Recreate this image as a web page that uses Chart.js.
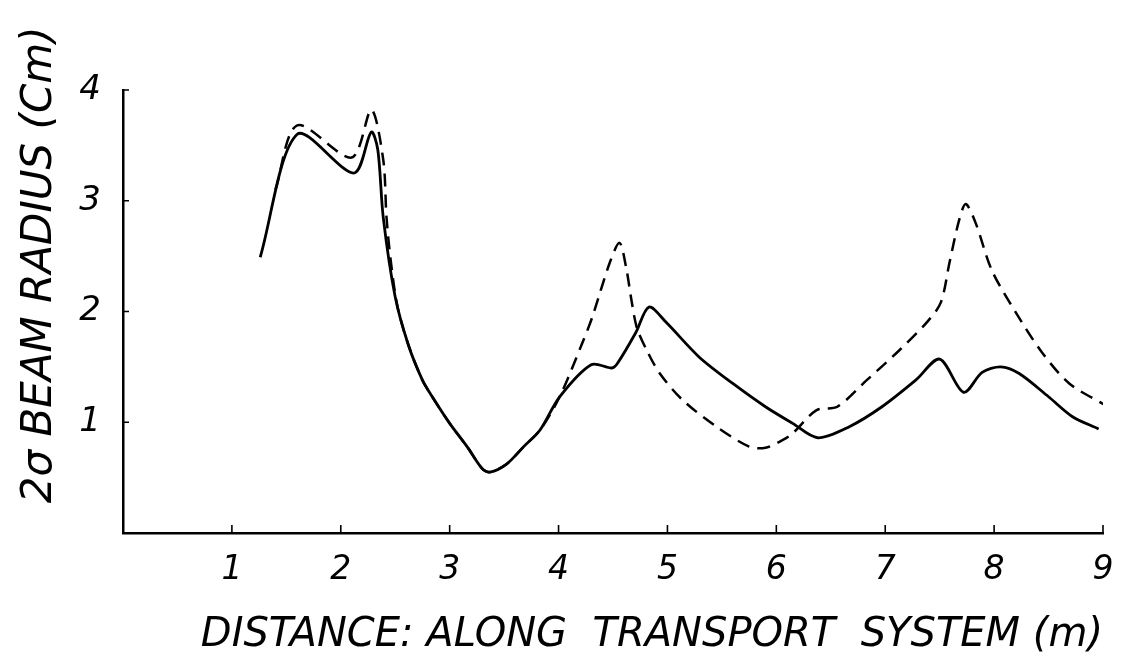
<!DOCTYPE html>
<html>
<head>
<meta charset="utf-8">
<script src="https://cdn.jsdelivr.net/npm/chart.js@4.4.1/dist/chart.umd.min.js"></script>
<style>
  html, body { margin: 0; padding: 0; background: #fff; }
  #wrap { width: 1135px; height: 666px; position: relative; }
</style>
</head>
<body>
<div id="wrap"><canvas id="c" width="1135" height="666"></canvas></div>
<script>
// ---- data ----
const solidX = [1.26, 1.60, 2.12, 2.28, 2.34, 2.39, 2.50, 2.62, 2.75, 2.84, 3.00, 3.16, 3.30, 3.37, 3.52, 3.68, 3.83, 4.01, 4.30, 4.49, 4.54, 4.71, 4.83, 4.99, 5.29, 5.60, 5.90, 6.15, 6.38, 6.67, 6.97, 7.28, 7.50, 7.72, 7.89, 8.06, 8.23, 8.50, 8.72, 8.96];
const solidY = [2.49, 3.60, 3.25, 3.62, 3.46, 2.85, 2.13, 1.70, 1.38, 1.23, 0.99, 0.78, 0.58, 0.55, 0.62, 0.78, 0.93, 1.23, 1.52, 1.49, 1.53, 1.81, 2.04, 1.90, 1.59, 1.35, 1.14, 0.99, 0.86, 0.96, 1.14, 1.38, 1.57, 1.27, 1.45, 1.50, 1.44, 1.23, 1.05, 0.94];

const dashedX = [1.40, 1.60, 2.10, 2.28, 2.39, 2.42, 2.46, 2.52, 2.62, 2.75, 2.84, 3.00, 3.16, 3.30, 3.37, 3.52, 3.68, 3.83, 4.01, 4.22, 4.31, 4.47, 4.56, 4.62, 4.67, 4.72, 4.81, 4.93, 5.14, 5.45, 5.75, 5.90, 6.06, 6.15, 6.37, 6.56, 6.83, 7.13, 7.38, 7.51, 7.59, 7.68, 7.74, 7.83, 7.98, 8.20, 8.44, 8.69, 9.01];
const dashedY = [3.10, 3.68, 3.39, 3.82, 3.37, 2.85, 2.45, 2.05, 1.70, 1.38, 1.23, 0.99, 0.78, 0.58, 0.55, 0.62, 0.78, 0.93, 1.23, 1.72, 1.95, 2.44, 2.62, 2.40, 2.10, 1.85, 1.65, 1.44, 1.20, 0.96, 0.78, 0.77, 0.84, 0.90, 1.11, 1.14, 1.38, 1.65, 1.90, 2.08, 2.44, 2.83, 2.97, 2.80, 2.37, 1.99, 1.63, 1.35, 1.16];

const xTickLabels = ['1', '2', '3', '4', '5', '6', '7', '8', '9'];
const yTickLabels = ['1', '2', '3', '4'];
const xTitle = 'DISTANCE: ALONG  TRANSPORT  SYSTEM (m)';
const yTitle = '2σ BEAM RADIUS (Cm)';

const toPts = (xs, ys) => xs.map((x, i) => ({ x: x, y: ys[i] }));

const FONT = "'DejaVu Sans', sans-serif";

// small inward tick marks drawn through the scales
const innerTicks = {
  id: 'innerTicks',
  afterDraw(chart) {
    const ctx = chart.ctx;
    const xs = chart.scales.x, ys = chart.scales.y;
    const y0 = ys.getPixelForValue(0);
    const x0 = xs.getPixelForValue(0);
    ctx.save();
    ctx.strokeStyle = '#000';
    ctx.lineWidth = 1.6;
    ctx.beginPath();
    for (let v = 1; v <= 9; v++) {
      const px = xs.getPixelForValue(v);
      ctx.moveTo(px, y0);
      ctx.lineTo(px, y0 - 8);
    }
    for (let v = 1; v <= 4; v++) {
      const py = ys.getPixelForValue(v);
      ctx.moveTo(x0, py);
      ctx.lineTo(x0 + 6, py);
    }
    ctx.stroke();
    ctx.restore();
  }
};

new Chart(document.getElementById('c'), {
  type: 'line',
  data: {
    datasets: [
      {
        label: 'solid',
        data: toPts(solidX, solidY),
        borderColor: '#000',
        borderWidth: 2.8,
        pointRadius: 0,
        fill: false,
        tension: 0.3,
        order: 1
      },
      {
        label: 'dashed',
        data: toPts(dashedX, dashedY),
        borderColor: '#000',
        borderWidth: 2.5,
        borderDash: [13, 8],
        pointRadius: 0,
        fill: false,
        tension: 0.3,
        order: 2
      }
    ]
  },
  options: {
    responsive: false,
    animation: false,
    layout: { padding: { top: 90, right: 32, left: 0, bottom: 0 } },
    plugins: { legend: { display: false }, tooltip: { enabled: false } },
    scales: {
      x: {
        type: 'linear',
        min: 0, max: 9,
        afterFit(s) { s.height = 133; },
        grid: { display: false },
        border: { display: true, color: '#000', width: 2.5 },
        ticks: {
          stepSize: 1,
          padding: 10,
          maxRotation: 0,
          autoSkip: false,
          color: '#000',
          font: { family: FONT, size: 33, style: 'italic' },
          callback: (v) => (v >= 1 && v <= 9 ? xTickLabels[v - 1] : '')
        },
        title: {
          display: true,
          text: xTitle,
          align: 'end',
          color: '#000',
          padding: { top: 0, bottom: 6 },
          font: { family: FONT, size: 40, style: 'italic' }
        }
      },
      y: {
        type: 'linear',
        min: 0, max: 4,
        afterFit(s) { s.width = 123; },
        grid: { display: false },
        border: { display: true, color: '#000', width: 2.5 },
        ticks: {
          stepSize: 1,
          padding: 14,
          color: '#000',
          font: { family: FONT, size: 34, style: 'italic' },
          callback: (v) => (v >= 1 && v <= 4 ? yTickLabels[v - 1] : '')
        },
        title: {
          display: true,
          text: '       ' + yTitle,
          align: 'center',
          color: '#000',
          padding: { top: 15, bottom: 0 },
          font: { family: FONT, size: 42, style: 'italic' }
        }
      }
    }
  },
  plugins: [innerTicks]
});
</script>
</body>
</html>
